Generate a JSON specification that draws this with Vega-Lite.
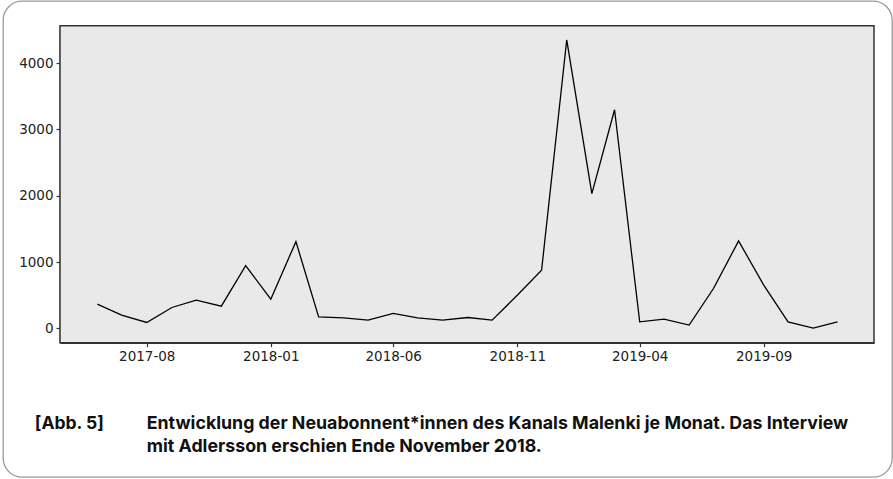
{
  "$schema": "https://vega.github.io/schema/vega-lite/v6.json",
  "width": 889,
  "height": 476,
  "autosize": {"type": "none"},
  "padding": {"left": 3, "top": 1, "right": 1, "bottom": 2},
  "background": "white",
  "config": {
    "view": {"stroke": "#9a9a9a", "strokeWidth": 1.3, "cornerRadius": 19, "fill": "white"},
    "axis": {
      "labelFont": "DejaVu Sans",
      "labelFontSize": 13.5,
      "labelColor": "#222222",
      "domainColor": "#333333",
      "domainWidth": 1.5,
      "tickColor": "#333333",
      "tickWidth": 1.2,
      "tickSize": 4,
      "labelPadding": 3,
      "grid": false
    }
  },
  "layer": [
    {
      "data": {"values": [{}]},
      "mark": {"type": "rect", "fill": "#e9e9e9", "stroke": "#333333", "strokeWidth": 1.5},
      "encoding": {
        "x": {"datum": {"year": 2017, "month": 4, "date": 16, "utc": true}, "type": "temporal", "title": null,
              "scale": {"type": "utc", "domain": [{"year": 2017, "month": 4, "date": 16, "utc": true}, {"year": 2020, "month": 1, "date": 15, "utc": true}], "range": [57, 871], "nice": false}},
        "x2": {"datum": {"year": 2020, "month": 1, "date": 15, "utc": true}},
        "y": {"datum": -215, "type": "quantitative", "title": null,
              "scale": {"domain": [-215, 4565], "range": [341.7, 24.7], "nice": false, "zero": false}},
        "y2": {"datum": 4565}
      }
    },
    {
      "data": {"values": [
        {"monat": "2017-06-01", "neuabonnenten": 366},
        {"monat": "2017-07-01", "neuabonnenten": 200},
        {"monat": "2017-08-01", "neuabonnenten": 90},
        {"monat": "2017-09-01", "neuabonnenten": 316},
        {"monat": "2017-10-01", "neuabonnenten": 426},
        {"monat": "2017-11-01", "neuabonnenten": 336},
        {"monat": "2017-12-01", "neuabonnenten": 948},
        {"monat": "2018-01-01", "neuabonnenten": 441},
        {"monat": "2018-02-01", "neuabonnenten": 1309},
        {"monat": "2018-03-01", "neuabonnenten": 175},
        {"monat": "2018-04-01", "neuabonnenten": 160},
        {"monat": "2018-05-01", "neuabonnenten": 125},
        {"monat": "2018-06-01", "neuabonnenten": 226},
        {"monat": "2018-07-01", "neuabonnenten": 160},
        {"monat": "2018-08-01", "neuabonnenten": 125},
        {"monat": "2018-09-01", "neuabonnenten": 165},
        {"monat": "2018-10-01", "neuabonnenten": 125},
        {"monat": "2018-11-01", "neuabonnenten": 500},
        {"monat": "2018-12-01", "neuabonnenten": 878},
        {"monat": "2019-01-01", "neuabonnenten": 4350},
        {"monat": "2019-02-01", "neuabonnenten": 2032},
        {"monat": "2019-03-01", "neuabonnenten": 3297},
        {"monat": "2019-04-01", "neuabonnenten": 100},
        {"monat": "2019-05-01", "neuabonnenten": 140},
        {"monat": "2019-06-01", "neuabonnenten": 50},
        {"monat": "2019-07-01", "neuabonnenten": 602},
        {"monat": "2019-08-01", "neuabonnenten": 1319},
        {"monat": "2019-09-01", "neuabonnenten": 652},
        {"monat": "2019-10-01", "neuabonnenten": 100},
        {"monat": "2019-11-01", "neuabonnenten": 5},
        {"monat": "2019-12-01", "neuabonnenten": 100}
      ]},
      "mark": {"type": "line", "color": "#000000", "strokeWidth": 1.3},
      "encoding": {
        "x": {"field": "monat", "type": "temporal", "title": null,
              "scale": {"type": "utc", "domain": [{"year": 2017, "month": 4, "date": 16, "utc": true}, {"year": 2020, "month": 1, "date": 15, "utc": true}], "range": [57, 871], "nice": false},
              "axis": {"orient": "bottom", "offset": -134.3, "format": "%Y-%m",
                       "values": [
                         {"year": 2017, "month": 8, "date": 1, "utc": true},
                         {"year": 2018, "month": 1, "date": 1, "utc": true},
                         {"year": 2018, "month": 6, "date": 1, "utc": true},
                         {"year": 2018, "month": 11, "date": 1, "utc": true},
                         {"year": 2019, "month": 4, "date": 1, "utc": true},
                         {"year": 2019, "month": 9, "date": 1, "utc": true}
                       ]}},
        "y": {"field": "neuabonnenten", "type": "quantitative", "title": null,
              "scale": {"domain": [-215, 4565], "range": [341.7, 24.7], "nice": false, "zero": false},
              "axis": {"orient": "left", "offset": -57, "values": [0, 1000, 2000, 3000, 4000], "format": "d"}}
      }
    },
    {
      "data": {"values": [{}]},
      "mark": {"type": "text", "text": "[Abb. 5]", "font": "Inter", "fontWeight": "bold", "fontSize": 17.5, "color": "#111111", "align": "left", "baseline": "middle"},
      "encoding": {
        "x": {"datum": {"year": 2017, "month": 3, "date": 16, "utc": true}, "type": "temporal", "title": null,
              "scale": {"type": "utc", "domain": [{"year": 2017, "month": 4, "date": 16, "utc": true}, {"year": 2020, "month": 1, "date": 15, "utc": true}], "range": [57, 871], "nice": false}},
        "y": {"datum": -1441, "type": "quantitative", "title": null,
              "scale": {"domain": [-215, 4565], "range": [341.7, 24.7], "nice": false, "zero": false}}
      }
    },
    {
      "data": {"values": [{}]},
      "mark": {"type": "text", "text": "Entwicklung der Neuabonnent*innen des Kanals Malenki je Monat. Das Interview", "font": "Inter", "fontWeight": "bold", "fontSize": 17.8, "color": "#111111", "align": "left", "baseline": "middle"},
      "encoding": {
        "x": {"datum": {"year": 2017, "month": 8, "date": 1, "utc": true}, "type": "temporal", "title": null,
              "scale": {"type": "utc", "domain": [{"year": 2017, "month": 4, "date": 16, "utc": true}, {"year": 2020, "month": 1, "date": 15, "utc": true}], "range": [57, 871], "nice": false}},
        "y": {"datum": -1441, "type": "quantitative", "title": null,
              "scale": {"domain": [-215, 4565], "range": [341.7, 24.7], "nice": false, "zero": false}}
      }
    },
    {
      "data": {"values": [{}]},
      "mark": {"type": "text", "text": "mit Adlersson erschien Ende November 2018.", "font": "Inter", "fontWeight": "bold", "fontSize": 17.8, "color": "#111111", "align": "left", "baseline": "middle"},
      "encoding": {
        "x": {"datum": {"year": 2017, "month": 8, "date": 1, "utc": true}, "type": "temporal", "title": null,
              "scale": {"type": "utc", "domain": [{"year": 2017, "month": 4, "date": 16, "utc": true}, {"year": 2020, "month": 1, "date": 15, "utc": true}], "range": [57, 871], "nice": false}},
        "y": {"datum": -1788, "type": "quantitative", "title": null,
              "scale": {"domain": [-215, 4565], "range": [341.7, 24.7], "nice": false, "zero": false}}
      }
    }
  ]
}
